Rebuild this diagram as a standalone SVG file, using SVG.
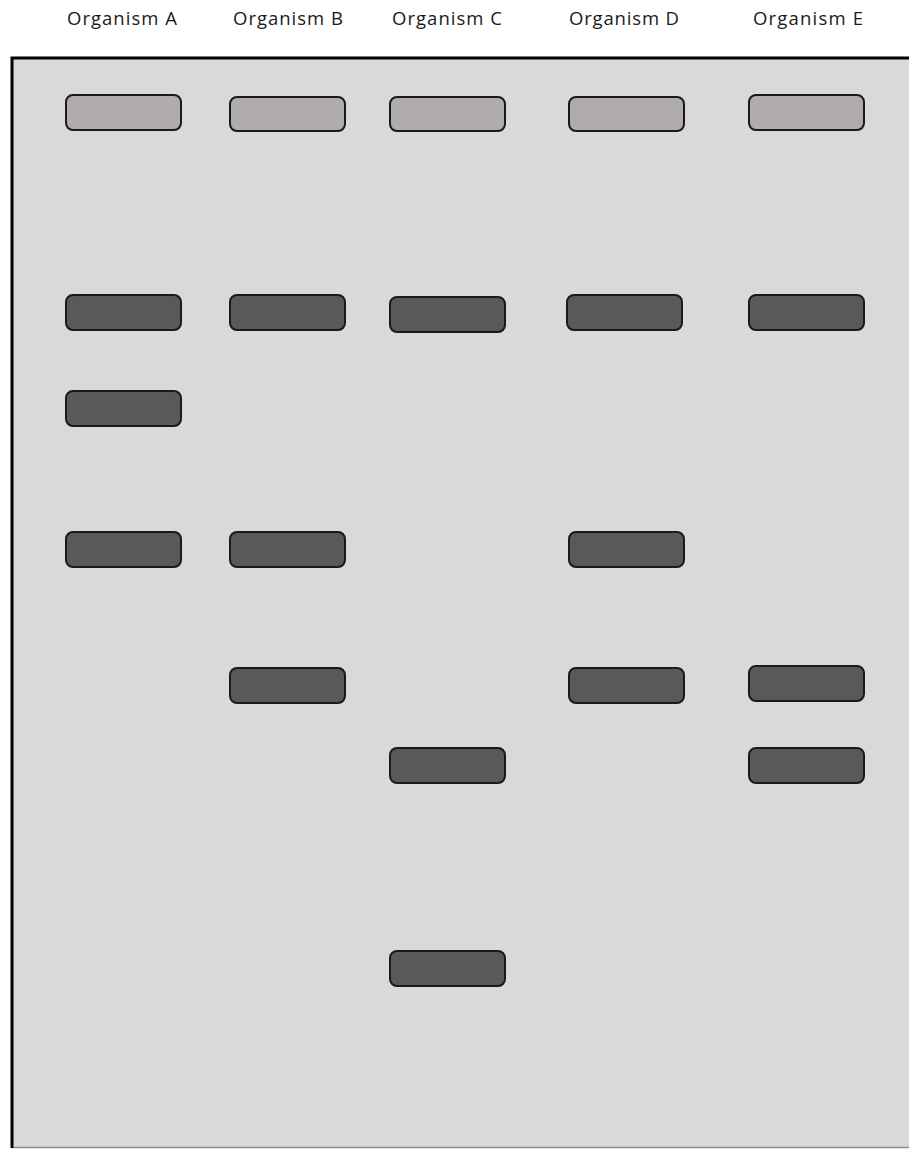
<svg xmlns="http://www.w3.org/2000/svg" width="909" height="1149" viewBox="0 0 909 1149">
<style>
.lbl{font-family:"Open Sans","Liberation Sans",sans-serif;font-size:18.5px;fill:#1a1a1a;text-anchor:middle}
.light{fill:#b0acab;stroke:#1a1a1a;stroke-width:2}
.dark{fill:#595959;stroke:#1a1a1a;stroke-width:2}
</style>
<rect width="909" height="1149" fill="#ffffff"/>
<g id="gel">
<rect x="12" y="58" width="897" height="1090" fill="#d9d9d9"/>
<line x1="12" y1="1147.5" x2="909" y2="1147.5" stroke="#8c8c8c" stroke-width="1.5"/>
<path d="M12 1148 V58 H909" fill="none" stroke="#000000" stroke-width="3"/>
</g>
<g id="labels">
<text class="lbl" x="122" y="25" textLength="110" lengthAdjust="spacing">Organism A</text>
<text class="lbl" x="288" y="25" textLength="110" lengthAdjust="spacing">Organism B</text>
<text class="lbl" x="447" y="25" textLength="110" lengthAdjust="spacing">Organism C</text>
<text class="lbl" x="624" y="25" textLength="110" lengthAdjust="spacing">Organism D</text>
<text class="lbl" x="808" y="25" textLength="110" lengthAdjust="spacing">Organism E</text>
</g>
<g id="laneA">
<rect class="light" x="66" y="95" width="115" height="35" rx="7"/>
<rect class="dark" x="66" y="295" width="115" height="35" rx="7"/>
<rect class="dark" x="66" y="391" width="115" height="35" rx="7"/>
<rect class="dark" x="66" y="532" width="115" height="35" rx="7"/>
</g>
<g id="laneB">
<rect class="light" x="230" y="97" width="115" height="34" rx="7"/>
<rect class="dark" x="230" y="295" width="115" height="35" rx="7"/>
<rect class="dark" x="230" y="532" width="115" height="35" rx="7"/>
<rect class="dark" x="230" y="668" width="115" height="35" rx="7"/>
</g>
<g id="laneC">
<rect class="light" x="390" y="97" width="115" height="34" rx="7"/>
<rect class="dark" x="390" y="297" width="115" height="35" rx="7"/>
<rect class="dark" x="390" y="748" width="115" height="35" rx="7"/>
<rect class="dark" x="390" y="951" width="115" height="35" rx="7"/>
</g>
<g id="laneD">
<rect class="light" x="569" y="97" width="115" height="34" rx="7"/>
<rect class="dark" x="567" y="295" width="115" height="35" rx="7"/>
<rect class="dark" x="569" y="532" width="115" height="35" rx="7"/>
<rect class="dark" x="569" y="668" width="115" height="35" rx="7"/>
</g>
<g id="laneE">
<rect class="light" x="749" y="95" width="115" height="35" rx="7"/>
<rect class="dark" x="749" y="295" width="115" height="35" rx="7"/>
<rect class="dark" x="749" y="666" width="115" height="35" rx="7"/>
<rect class="dark" x="749" y="748" width="115" height="35" rx="7"/>
</g>
</svg>
